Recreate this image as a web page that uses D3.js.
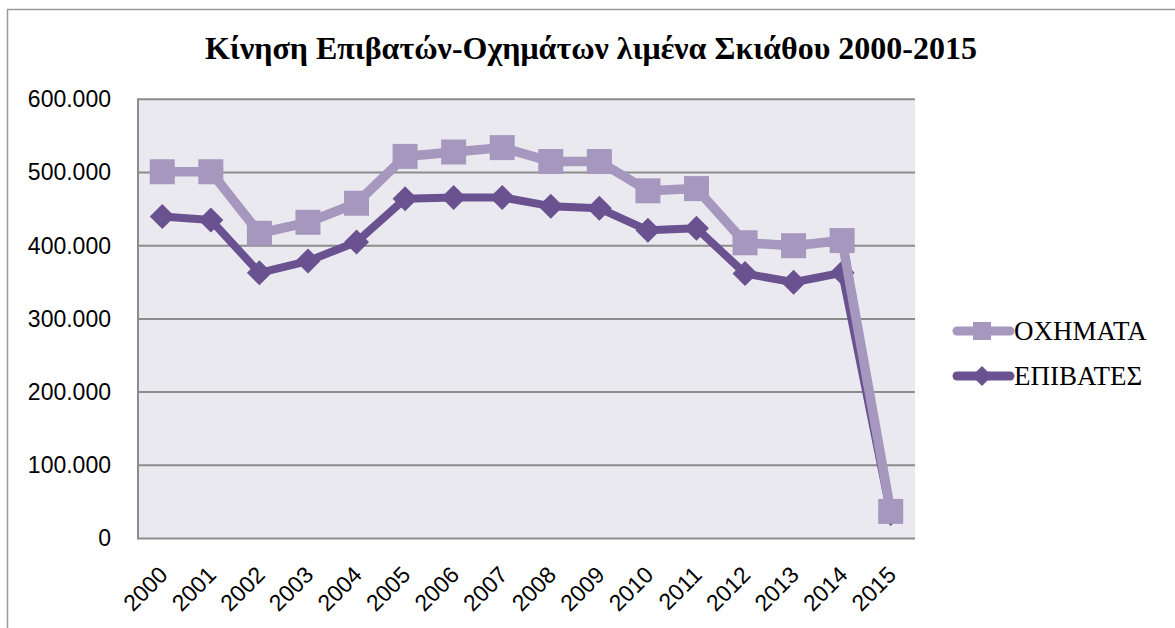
<!DOCTYPE html>
<html>
<head>
<meta charset="utf-8">
<script src="https://cdn.jsdelivr.net/npm/d3@7"></script>
<style>
  body { margin: 0; background: #fff; }
  svg { display: block; }
</style>
</head>
<body>
<svg id="chart" width="1175" height="628"></svg>
<script>
// chart data
const years = ['2000', '2001', '2002', '2003', '2004', '2005', '2006', '2007',
  '2008', '2009', '2010', '2011', '2012', '2013', '2014', '2015'];
const vehicles = [501000, 501000, 417000, 432000, 458000, 522000, 528000, 534000,
  515000, 515000, 475000, 478000, 404000, 400000, 407000, 37000];
const passengers = [440000, 435000, 363000, 379000, 405000, 464000, 466000, 466000,
  454000, 451000, 421000, 424000, 362000, 350000, 363000, 34000];
const yTicks = [0, 100000, 200000, 300000, 400000, 500000, 600000];
const seriesNames = ['ΟΧΗΜΑΤΑ', 'ΕΠΙΒΑΤΕΣ'];
const title = 'Κίνηση Επιβατών-Οχημάτων λιμένα Σκιάθου 2000-2015';

const svg = d3.select('#chart');
const plot = { left: 138, right: 915, top: 99.3, bottom: 538.5 };

const lightPurple = '#a597bd';
const darkPurple = '#6a5290';

// outer chart border (only top/left visible in frame)
svg.append('rect')
  .attr('x', 7.5).attr('y', 9.5)
  .attr('width', 1300).attr('height', 700)
  .attr('fill', 'none')
  .attr('stroke', '#9a9a9a')
  .attr('stroke-width', 1.5);

svg.append('text')
  .attr('x', 591).attr('y', 59)
  .attr('text-anchor', 'middle')
  .style('font-family', '"Liberation Serif", "Times New Roman", serif')
  .style('font-weight', 'bold')
  .style('font-size', '32px')
  .text(title);

const x = d3.scaleBand().domain(years).range([plot.left, plot.right]);
const y = d3.scaleLinear().domain([0, 600000]).range([plot.bottom, plot.top]);

// plot background
svg.append('rect')
  .attr('x', plot.left).attr('y', plot.top)
  .attr('width', plot.right - plot.left).attr('height', plot.bottom - plot.top)
  .attr('fill', '#ebe9f0');

// gridlines
svg.append('g')
  .selectAll('line')
  .data(yTicks)
  .join('line')
  .attr('x1', plot.left).attr('x2', plot.right)
  .attr('y1', (d) => y(d)).attr('y2', (d) => y(d))
  .attr('stroke', '#8c8c8c')
  .attr('stroke-width', 2);

// left axis line
svg.append('line')
  .attr('x1', plot.left).attr('x2', plot.left)
  .attr('y1', plot.top - 1).attr('y2', plot.bottom + 1)
  .attr('stroke', '#8c8c8c')
  .attr('stroke-width', 2);

const fmt = (v) => (v === 0 ? '0' : d3.format(',')(v).replace(/,/g, '.'));

const yAxis = d3.axisLeft(y).tickValues(yTicks).tickFormat(fmt).tickSize(0).tickPadding(27);
svg.append('g')
  .attr('transform', 'translate(' + plot.left + ',0)')
  .call(yAxis)
  .call((g) => g.select('.domain').remove())
  .selectAll('text')
  .style('font-family', '"Liberation Sans", Arial, sans-serif')
  .style('font-size', '23px')
  .attr('fill', '#000');

const xAxis = d3.axisBottom(x).tickSize(0);
svg.append('g')
  .attr('transform', 'translate(0,' + plot.bottom + ')')
  .call(xAxis)
  .call((g) => g.select('.domain').remove())
  .selectAll('text')
  .style('font-family', '"Liberation Sans", Arial, sans-serif')
  .style('font-size', '23px')
  .attr('fill', '#000')
  .attr('text-anchor', 'end')
  .attr('dy', '0.35em')
  .attr('transform', 'translate(-1,30) rotate(-45)');

const cx = (d, i) => x(years[i]) + x.bandwidth() / 2;

const line = d3.line()
  .x((d, i) => x(years[i]) + x.bandwidth() / 2)
  .y((d) => y(d));

// passengers (diamonds) drawn first, vehicles sit on top
svg.append('path')
  .datum(passengers)
  .attr('d', line)
  .attr('fill', 'none')
  .attr('stroke', darkPurple)
  .attr('stroke-width', 8)
  .attr('stroke-linejoin', 'round');

const diamond = 'M0,-12.5L12.5,0L0,12.5L-12.5,0Z';
svg.append('g')
  .selectAll('path')
  .data(passengers)
  .join('path')
  .attr('d', diamond)
  .attr('transform', (d, i) => 'translate(' + cx(d, i) + ',' + y(d) + ')')
  .attr('fill', darkPurple);

// vehicles (squares)
svg.append('path')
  .datum(vehicles)
  .attr('d', line)
  .attr('fill', 'none')
  .attr('stroke', lightPurple)
  .attr('stroke-width', 9.5)
  .attr('stroke-linejoin', 'round');

svg.append('g')
  .selectAll('rect')
  .data(vehicles)
  .join('rect')
  .attr('x', (d, i) => cx(d, i) - 12.5)
  .attr('y', (d) => y(d) - 12.5)
  .attr('width', 25).attr('height', 25)
  .attr('fill', lightPurple);

// legend
const legend = svg.append('g').attr('transform', 'translate(953,0)');
const legendRows = [
  { name: seriesNames[0], color: lightPurple, shape: 'square', y: 331 },
  { name: seriesNames[1], color: darkPurple, shape: 'diamond', y: 376 },
];
legendRows.forEach(function (r) {
  legend.append('line')
    .attr('x1', 4).attr('x2', 57)
    .attr('y1', r.y).attr('y2', r.y)
    .attr('stroke', r.color)
    .attr('stroke-width', 9)
    .attr('stroke-linecap', 'round');
  if (r.shape === 'square') {
    legend.append('rect')
      .attr('x', 20).attr('y', r.y - 9)
      .attr('width', 18).attr('height', 18)
      .attr('fill', r.color);
  } else {
    legend.append('path')
      .attr('d', 'M0,-10L10,0L0,10L-10,0Z')
      .attr('transform', 'translate(29,' + r.y + ')')
      .attr('fill', r.color);
  }
  legend.append('text')
    .attr('x', 61).attr('y', r.y)
    .attr('dy', '0.35em')
    .style('font-family', '"Liberation Serif", "Times New Roman", serif')
    .style('font-size', '27px')
    .text(r.name);
});
</script>
</body>
</html>
